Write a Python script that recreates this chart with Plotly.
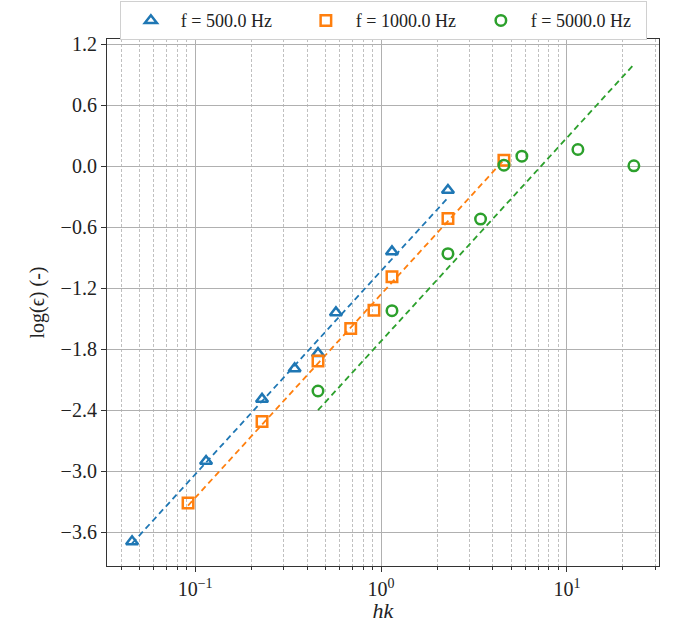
import numpy as np
import plotly.graph_objects as go

# ---- data ----
hk_500 = [0.0458, 0.1145, 0.229, 0.343, 0.458, 0.572, 1.145, 2.29]
eps_500 = [-3.69, -2.90, -2.29, -1.99, -1.84, -1.44, -0.84, -0.236]

hk_1000 = [0.0916, 0.229, 0.458, 0.687, 0.916, 1.145, 2.29, 4.58]
eps_1000 = [-3.31, -2.51, -1.915, -1.595, -1.415, -1.087, -0.514, 0.059]

hk_5000 = [0.458, 1.145, 2.29, 3.43, 4.58, 5.72, 11.45, 22.9]
eps_5000 = [-2.21, -1.42, -0.86, -0.52, 0.01, 0.098, 0.164, 0.003]

labels = ["f = 500.0 Hz", "f = 1000.0 Hz", "f = 5000.0 Hz"]
fit_slope = [2.0, 2.0, 2.0]
fit_intercept = [-1.03, -1.26, -1.72]

y_ticks = [-3.6, -3.0, -2.4, -1.8, -1.2, -0.6, 0.0, 0.6, 1.2]
x_ticks = [0.1, 1, 10]
x_ticklabels = ["10<sup>−1</sup>", "10<sup>0</sup>", "10<sup>1</sup>"]

colors = ["#1f77b4", "#ff7f0e", "#2ca02c"]
symbols = ["triangle-up-open", "square-open", "circle-open"]

FONT = "Liberation Serif, DejaVu Serif, serif"

fig = go.Figure()
series = [(hk_500, eps_500), (hk_1000, eps_1000), (hk_5000, eps_5000)]

for i, (hx, ey) in enumerate(series):
    xs = np.array(hx)
    fit = fit_slope[i] * np.log10(xs) + fit_intercept[i]
    fig.add_trace(go.Scatter(
        x=xs, y=fit, mode="lines", showlegend=False,
        line=dict(color=colors[i], width=1.8, dash="6px,4px"),
        hoverinfo="skip"))

for i, (hx, ey) in enumerate(series):
    fig.add_trace(go.Scatter(
        x=hx, y=ey, mode="markers", name=labels[i],
        marker=dict(symbol=symbols[i], size=10.5, color=colors[i],
                    line=dict(color=colors[i], width=2.5))))

minor_vals = [m * 10.0 ** d for d in range(-2, 2) for m in range(2, 10)]

fig.update_layout(
    width=674, height=623,
    margin=dict(l=107, r=15, t=39, b=57, autoexpand=False),
    plot_bgcolor="white", paper_bgcolor="white",
    font=dict(family=FONT, size=20, color="#222"),
    legend=dict(orientation="h", x=0.5688, xanchor="center", xref="container",
                y=0.998, yanchor="top", yref="container",
                font=dict(family=FONT, size=18, color="#222"),
                bordercolor="#d0d0d0", borderwidth=1, bgcolor="white",
                entrywidth=110, itemwidth=50, tracegroupgap=0),
    xaxis=dict(
        type="log", range=[-1.474, 1.495],
        tickvals=x_ticks, ticktext=x_ticklabels,
        ticks="outside", ticklen=5, tickwidth=1, tickcolor="#333",
        showgrid=True, gridcolor="#b0b0b0", gridwidth=1,
        showline=True, linecolor="#333", linewidth=1.2, mirror=True,
        zeroline=False,
        tickfont=dict(family=FONT, size=20, color="#222"),
        title=dict(text="<i>hk</i>", font=dict(family=FONT, size=22, color="#222"), standoff=4),
        minor=dict(tickmode="array", tickvals=minor_vals, ticks="outside", ticklen=3,
                   tickcolor="#333", showgrid=True, gridcolor="#c0c0c0",
                   griddash="3px,2px", gridwidth=0.8),
    ),
    yaxis=dict(
        range=[-3.93, 1.25],
        tickvals=y_ticks, ticktext=[f"{v:.1f}".replace("-", "−") for v in y_ticks],
        ticks="outside", ticklen=5, tickwidth=1, tickcolor="#333",
        showgrid=True, gridcolor="#b0b0b0", gridwidth=1,
        showline=True, linecolor="#333", linewidth=1.2, mirror=True,
        zeroline=False,
        tickfont=dict(family=FONT, size=20, color="#222"),
        title=dict(text="log(ϵ) (-)", font=dict(family=FONT, size=20, color="#222"), standoff=10),
    ),
)

fig.write_html("out.html", config={"displayModeBar": False},
               post_script="document.body.style.margin='0';")
